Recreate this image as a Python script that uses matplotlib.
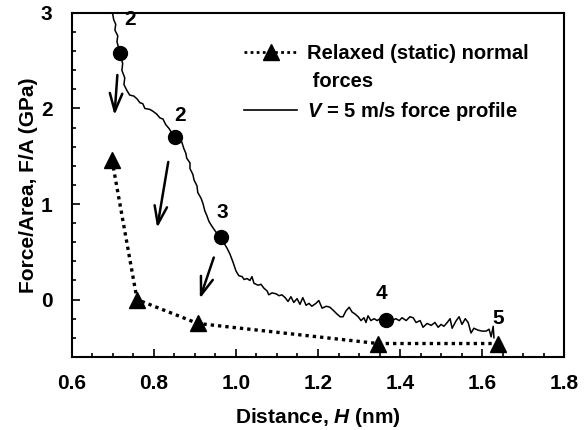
import numpy as np
import matplotlib
matplotlib.use('Agg')
import matplotlib.pyplot as plt
from matplotlib import rcParams
from matplotlib.lines import Line2D
from matplotlib.ticker import MultipleLocator

# Relaxed (static) normal forces
static_h = [0.698, 0.759, 0.907, 1.346, 1.639]
static_f = [1.46, 0.00, -0.25, -0.46, -0.46]

# V = 5 m/s force profile (traced)
profile_h = [0.697, 0.702, 0.707, 0.705, 0.712, 0.710, 0.717, 0.720, 0.724, 0.722,
             0.729, 0.727, 0.734, 0.741, 0.751, 0.759, 0.766, 0.773, 0.778, 0.790,
             0.798, 0.807, 0.815, 0.822, 0.829, 0.837, 0.844, 0.851, 0.861, 0.868,
             0.873, 0.878, 0.880, 0.888, 0.888, 0.895, 0.898, 0.905, 0.907, 0.915,
             0.920, 0.924, 0.929, 0.934, 0.941, 0.949, 0.961, 0.971, 0.978, 0.985,
             0.993, 1.000, 1.007, 1.015, 1.020, 1.027, 1.034, 1.039, 1.044, 1.054,
             1.061, 1.068, 1.076, 1.080, 1.088, 1.098, 1.105, 1.112, 1.120, 1.127,
             1.134, 1.141, 1.149, 1.156, 1.163, 1.171, 1.178, 1.185, 1.195, 1.202,
             1.210, 1.220, 1.229, 1.239, 1.246, 1.254, 1.261, 1.268, 1.276, 1.283,
             1.290, 1.298, 1.305, 1.312, 1.317, 1.322, 1.329, 1.337, 1.344, 1.351,
             1.366, 1.380, 1.390, 1.398, 1.405, 1.415, 1.424, 1.432, 1.439, 1.449,
             1.456, 1.466, 1.476, 1.485, 1.493, 1.500, 1.507, 1.515, 1.522, 1.527,
             1.537, 1.544, 1.551, 1.559, 1.566, 1.573, 1.580, 1.590, 1.600, 1.610,
             1.617, 1.622, 1.627, 1.629]
profile_f = [3.05, 2.93, 2.88, 2.82, 2.76, 2.70, 2.58, 2.53, 2.47, 2.40,
             2.32, 2.25, 2.19, 2.14, 2.13, 2.10, 2.06, 2.05, 2.00, 1.99,
             1.97, 1.94, 1.90, 1.89, 1.83, 1.79, 1.74, 1.70, 1.68, 1.65,
             1.58, 1.53, 1.48, 1.43, 1.37, 1.31, 1.25, 1.19, 1.12, 1.06,
             1.00, 0.93, 0.88, 0.82, 0.77, 0.72, 0.65, 0.59, 0.54, 0.48,
             0.39, 0.30, 0.25, 0.24, 0.21, 0.22, 0.20, 0.24, 0.17, 0.15,
             0.16, 0.12, 0.09, 0.05, 0.07, 0.06, 0.04, 0.05, 0.02, -0.02,
             0.03, -0.03, 0.01, -0.05, 0.02, -0.06, -0.04, -0.07, -0.04, -0.01,
             -0.09, -0.07, -0.08, -0.12, -0.15, -0.18, -0.18, -0.12, -0.08, -0.13,
             -0.15, -0.18, -0.22, -0.19, -0.24, -0.17, -0.22, -0.20, -0.22, -0.20,
             -0.21, -0.22, -0.20, -0.22, -0.19, -0.22, -0.18, -0.19, -0.24, -0.22,
             -0.29, -0.25, -0.27, -0.24, -0.29, -0.26, -0.28, -0.24, -0.20, -0.30,
             -0.22, -0.18, -0.26, -0.20, -0.24, -0.35, -0.30, -0.32, -0.33, -0.33,
             -0.31, -0.39, -0.28, -0.40]

# marked points on the profile and their labels
marker_h = [0.717, 0.851, 0.963, 1.366]
marker_f = [2.58, 1.70, 0.65, -0.21]
label_text = ['2', '2', '3', '4', '5']
label_h = [0.741, 0.863, 0.966, 1.354, 1.639]
label_f = [2.93, 1.93, 0.91, 0.06, -0.20]

# arrows (start -> end)
arrow_start = [(0.711, 2.35), (0.835, 1.44), (0.946, 0.44)]
arrow_end = [(0.704, 1.93), (0.808, 0.75), (0.912, 0.01)]

rcParams['font.family'] = 'Liberation Sans'
rcParams['font.weight'] = 'bold'
rcParams['mathtext.fontset'] = 'custom'
rcParams['mathtext.it'] = 'Liberation Sans:italic:bold'
rcParams['mathtext.rm'] = 'Liberation Sans:bold'

fig = plt.figure(figsize=(5.84, 4.30), dpi=100)
ax = fig.add_axes([0.123, 0.170, 0.843, 0.800])

ax.plot(profile_h, profile_f, color='black', linewidth=1.1)
ax.plot(static_h, static_f, color='black', linestyle=(0, (1, 1.2)), linewidth=2.4,
        marker='^', markersize=12, clip_on=False)
ax.plot(marker_h, marker_f, 'o', color='black', markersize=10)

for t, x, y in zip(label_text, label_h, label_f):
    ax.text(x, y, t, fontsize=15, fontweight='bold', ha='center', va='center')

for s, e in zip(arrow_start, arrow_end):
    ax.annotate('', xy=e, xytext=s,
                arrowprops=dict(arrowstyle='->, head_length=1.3, head_width=0.45',
                                color='black', lw=1.8, shrinkA=0, shrinkB=0))

ax.set_xlim(0.6, 1.8)
ax.set_ylim(-0.6, 3)
ax.xaxis.set_minor_locator(MultipleLocator(0.05))
ax.set_yticks([0, 1, 2, 3])
ax.yaxis.set_minor_locator(MultipleLocator(0.2))
ax.set_xticks(np.arange(0.6, 1.81, 0.2))
ax.set_xticklabels(['0.6', '0.8', '1.0', '1.2', '1.4', '1.6', '1.8'])
ax.tick_params(which='both', direction='in', labelsize=15, width=1.2)
ax.tick_params(which='major', length=6)
ax.tick_params(axis='x', which='major', pad=12)
ax.tick_params(axis='y', which='major', pad=14)
ax.tick_params(which='minor', length=3)
for sp in ax.spines.values():
    sp.set_linewidth(1.5)

ax.set_xlabel('Distance, $H$ (nm)', fontsize=15, fontweight='bold', labelpad=10)
ax.set_ylabel('Force/Area, F/A (GPa)', fontsize=15, fontweight='bold', labelpad=2)

handles = [Line2D([], [], color='black', linestyle=(0, (1, 1.2)), linewidth=2, marker='^', markersize=12),
           Line2D([], [], color='none'),
           Line2D([], [], color='black', linewidth=1.2)]
labels = ['Relaxed (static) normal', ' forces', '$V$ = 5 m/s force profile']
ax.legend(handles, labels, loc='upper left', bbox_to_anchor=(0.33, 0.94), frameon=False,
          borderpad=0, handlelength=2.6, handletextpad=0.5, labelspacing=0.45,
          prop={'weight': 'bold', 'size': 14.5})

fig.savefig('out.png', dpi=100)
